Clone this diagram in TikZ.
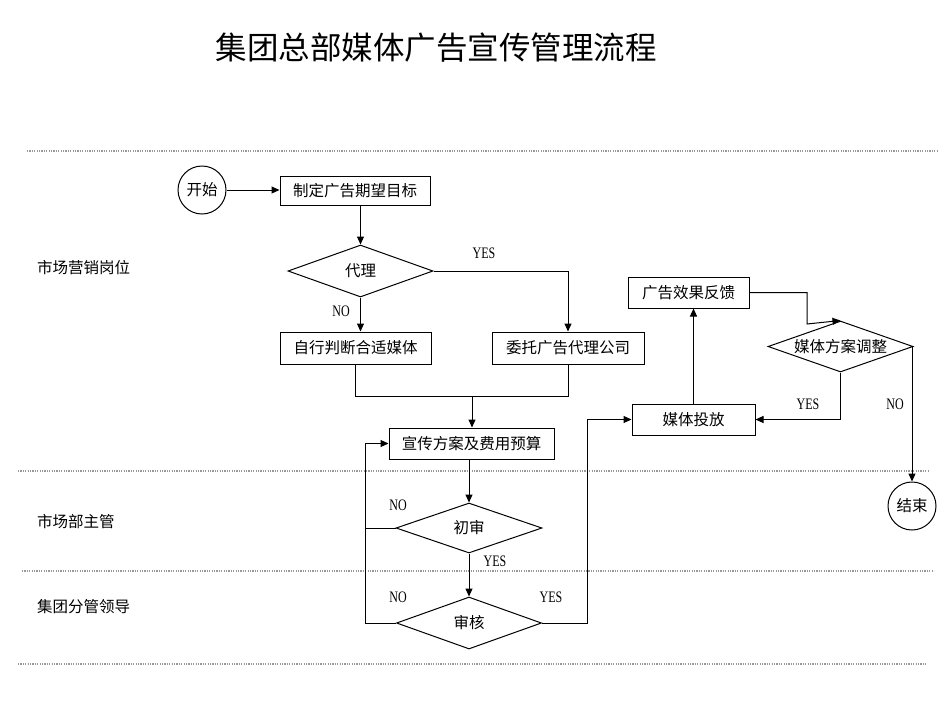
\documentclass[tikz,border=0pt]{standalone}
\usepackage{fontspec}
\setmainfont{Liberation Serif}
\newfontfamily\cjk{Noto Sans CJK SC}
\usetikzlibrary{shapes.geometric,arrows.meta,calc}
\tikzset{
  base/.style={draw=black,line width=1pt,font=\cjk\fontsize{15.5}{15.5}\selectfont,inner sep=0pt},
  box/.style={base,rectangle},
  dia/.style={base,diamond,aspect=2.8},
  term/.style={base,circle,minimum size=48pt},
  conn/.style={line width=1pt,draw=black},
  arr/.style={conn,-{Triangle[length=8pt,width=7pt]}},
  lbl/.style={font=\fontsize{16}{16}\selectfont,inner sep=0pt},
  lane/.style={font=\cjk\fontsize{15.5}{15.5}\selectfont,anchor=west,inner sep=0pt},
  sep/.style={draw=gray!80,line width=1.3pt,dash pattern=on 1.2pt off 1.2pt}
}
\newcommand{\yn}[1]{\scalebox{0.75}[1]{#1}}
\begin{document}
\begin{tikzpicture}[x=1pt,y=-1pt]
\useasboundingbox (0,0) rectangle (950,713);
% title
\node[font=\cjk\fontsize{31.5}{31.5}\selectfont,inner sep=0pt] (title) at (436,48) {集团总部媒体广告宣传管理流程};
% swimlane separators
\draw[sep] (27,151) -- (937,151);
\draw[sep] (18,471) -- (929,471);
\draw[sep] (22,571) -- (934,571);
\draw[sep] (18,664) -- (927,664);
% lane labels
\node[lane] (lane1) at (37,268) {市场营销岗位};
\node[lane] (lane2) at (37,522) {市场部主管};
\node[lane] (lane3) at (37,607) {集团分管领导};
% nodes
\node[term] (start) at (202,190) {开始};
\node[box,minimum width=150pt,minimum height=29pt] (b1) at (355,190.5) {制定广告期望目标};
\node[dia,minimum width=145pt,minimum height=52pt] (d1) at (360.5,271) {代理};
\node[box,minimum width=151pt,minimum height=32pt] (b2) at (355.5,348) {自行判断合适媒体};
\node[box,minimum width=152pt,minimum height=32pt] (b3) at (568,348) {委托广告代理公司};
\node[box,minimum width=165pt,minimum height=31pt] (b4) at (471.5,443.5) {宣传方案及费用预算};
\node[dia,minimum width=146pt,minimum height=50pt] (d2) at (469,528) {初审};
\node[dia,minimum width=145pt,minimum height=52pt] (d3) at (469,623) {审核};
\node[box,minimum width=123pt,minimum height=31pt] (b5) at (693.5,419.5) {媒体投放};
\node[box,minimum width=121pt,minimum height=31pt] (b6) at (688.5,292.5) {广告效果反馈};
\node[dia,minimum width=145pt,minimum height=51pt] (d4) at (840.5,346.5) {媒体方案调整};
\node[term] (end) at (912,506) {结束};
% helper coordinates
\coordinate (m) at (472,396);
\coordinate (L) at (365,0);
\coordinate (R) at (587,0);
\coordinate (c) at (807,324);
% connectors
\draw[arr] (start.east) -- (start.east -| b1.west);
\draw[arr] (b1.south -| d1.north) -- (d1.north);
\draw[arr] (d1.east) -| (b3.north);
\draw[arr] (d1.south) -- (d1.south |- b2.north);
\draw[conn] (b2.south) |- (b3.south |- m) -- (b3.south);
\draw[arr] (m) -- (m |- b4.north);
\draw[arr] (b4.south -| d2.north) -- (d2.north);
\draw[arr] (d2.west) -- (d2.west -| L) |- (b4.west);
\draw[conn] (d3.west) -- (d3.west -| L) -- (d2.west -| L);
\draw[arr] (d2.south) -- (d3.north);
\draw[arr] (d3.east) -- (d3.east -| R) |- (b5.west);
\draw[arr] (b5.north) -- (b5.north |- b6.south);
\draw[arr] (b6.east) -| (c) -- (d4.north);
\draw[arr] (d4.south) |- (b5.east);
\draw[arr] (d4.east) -| (end.north);
% branch labels
\node[lbl] (y1) at (484,253) {\yn{YES}};
\node[lbl] (n1) at (341,311) {\yn{NO}};
\node[lbl] (n2) at (398,505) {\yn{NO}};
\node[lbl] (y2) at (495,561) {\yn{YES}};
\node[lbl] (n3) at (398,597) {\yn{NO}};
\node[lbl] (y3) at (551,597) {\yn{YES}};
\node[lbl] (y4) at (808,404) {\yn{YES}};
\node[lbl] (n4) at (895,404) {\yn{NO}};
\end{tikzpicture}
\end{document}
